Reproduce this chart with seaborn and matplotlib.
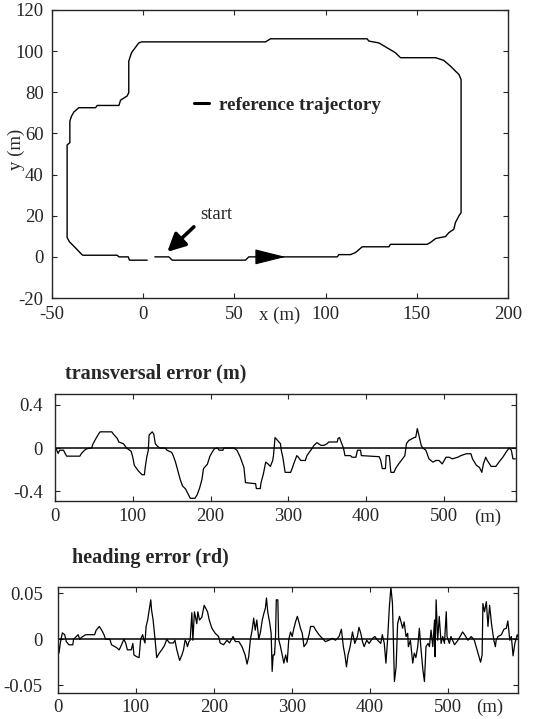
import numpy as np
import pandas as pd
import matplotlib
matplotlib.use("Agg")
import matplotlib.pyplot as plt
import seaborn as sns

# ---------------- data ----------------
traj_x = [6.4, 14.1, 15.9, 56.1, 57.9, 106.4, 107.3, 113.7, 116.4, 120.1, 134.7, 135.6,
          155.7, 157.5, 160.3, 165.8, 167.6, 170.3, 171.2, 173.1, 174.3, 174.3, 173.1,
          171.2, 168.5, 164.8, 162.1, 160.3, 141.1, 138.3, 133.8, 129.2, 123.7, 122.8,
          69.8, 67.1, -0.9, -2.4, -5.1, -6.4, -7.3, -7.9, -7.9, -8.8, -12.4, -13.3,
          -25.2, -26.1, -35.3, -38.0, -39.3, -40.2, -40.2, -41.7, -41.7, -40.4, -36.7,
          -33.8, -33.1, -14.3, -13.3, -8.2, -7.5, 2.2]
traj_y = [0.0, 0.0, -1.6, -1.6, 0.0, 0.0, 1.1, 1.1, 2.1, 4.9, 4.9, 6.1,
          6.1, 7.0, 8.9, 9.9, 11.8, 13.4, 16.7, 19.9, 21.5, 86.2, 88.7,
          90.3, 92.7, 95.5, 96.3, 96.8, 96.8, 99.2, 101.6, 104.0, 104.9, 106.0,
          106.0, 104.5, 104.5, 104.0, 100.8, 99.2, 96.8, 95.1, 79.8, 78.2, 76.2, 73.6,
          73.6, 72.5, 72.5, 70.4, 68.4, 66.0, 55.5, 54.4, 9.4, 7.3, 4.0,
          1.3, 0.8, 0.8, 0.0, 0.0, -1.6, -1.6]

trans_s = [0, 2, 4, 6, 11, 13, 15, 32, 34, 38, 41, 47, 49, 52, 56, 58, 73, 75, 80, 82, 88,
           92, 98, 100, 102, 107, 112, 115, 116, 118, 120, 121, 125, 127, 129, 132, 135,
           142, 144, 150, 152, 155, 158, 161, 164, 168, 174, 180, 183, 186, 189, 191, 196,
           199, 202, 205, 209, 211, 216, 217, 230, 234, 238, 243, 245, 258, 259, 264, 265,
           268, 271, 274, 277, 280, 281, 283, 286, 290, 291, 293, 296, 303, 305, 307, 311,
           313, 316, 322, 324, 329, 331, 333, 337, 342, 346, 350, 352, 363, 364, 366, 368,
           371, 373, 380, 382, 387, 389, 393, 394, 417, 419, 421, 425, 426, 430, 432, 436,
           438, 442, 447, 450, 452, 455, 462, 464, 466, 468, 471, 473, 477, 481, 486, 490,
           494, 498, 503, 507, 511, 518, 522, 529, 535, 537, 542, 546, 549, 551, 554, 556,
           561, 567, 571, 576, 580, 584, 587, 589, 592]
trans_e = [0, -0.016, -0.05, -0.02, -0.02, -0.05, -0.075, -0.075, -0.05, -0.02, -0.006, 0,
           0.04, 0.08, 0.13, 0.15, 0.15, 0.13, 0.09, 0.056, 0.04, 0, -0.03, -0.084, -0.16,
           -0.21, -0.247, -0.247, -0.18, -0.084, -0.02, 0.12, 0.15, 0.13, 0.04, 0.015, 0,
           0, -0.02, -0.04, -0.07, -0.13, -0.21, -0.29, -0.35, -0.38, -0.465, -0.465,
           -0.43, -0.37, -0.29, -0.19, -0.15, -0.08, -0.04, -0.006, 0, -0.02, -0.02, 0,
           0, -0.02, -0.08, -0.18, -0.32, -0.33, -0.375, -0.375, -0.32, -0.24, -0.13,
           -0.147, -0.17, -0.115, -0.07, 0.097, 0.072, 0.04, -0.02, -0.084, -0.225, -0.225,
           -0.19, -0.147, -0.07, -0.084, -0.115, -0.115, -0.07, -0.02, 0, 0.025, 0.05,
           0.025, 0.025, 0.04, 0.056, 0.056, 0.088, 0.097, 0.056, 0, -0.07, -0.07, -0.085,
           -0.085, -0.02, -0.02, -0.07, -0.08, -0.115, -0.19, -0.19, -0.07, -0.07, -0.225,
           -0.225, -0.19, -0.147, -0.1, -0.07, 0.04, 0.07, 0.097, 0.1, 0.18, 0.12, 0.025,
           0, -0.02, -0.1, -0.13, -0.115, -0.115, -0.147, -0.085, -0.085, -0.1, -0.085,
           -0.07, -0.053, -0.053, -0.1, -0.16, -0.18, -0.225, -0.147, -0.085, -0.115,
           -0.17, -0.17, -0.13, -0.085, -0.04, 0, -0.02, -0.1, -0.1]

head_s = [0, 1.3, 3, 5.6, 8.6, 10.7, 14, 19, 20, 23.6, 25.8, 28, 30, 35.6, 47, 49, 53, 56,
          59, 61, 66.5, 68.7, 75, 78.5, 81.5, 84.5, 87, 89, 94, 96, 97.4, 101, 104, 106,
          108.6, 110, 111.6, 113, 115, 117, 119, 120, 122, 124.5, 126.6, 130, 133, 136.5,
          139.5, 143, 148, 150, 152.4, 156, 159, 161, 163, 164.4, 166, 168, 169.5, 171.7,
          173, 175, 178, 179.4, 181.5, 184.5, 187.5, 191.8, 194, 197.4, 201.7, 206, 208,
          212.4, 216.7, 220, 224.5, 227.5, 232, 236, 240, 242.5, 244.6, 246.8, 249, 251,
          253, 255, 257.5, 259.7, 262, 264, 266, 267.4, 269, 271.7, 273.4, 274.7, 276,
          277.7, 279, 280, 282, 283, 285.4, 287.5, 289.7, 292, 294, 296, 298.3, 300.4,
          302.6, 304.7, 307, 309, 311, 313.3, 315.5, 319, 322, 324, 328, 330.5, 334.8,
          339, 343, 347.6, 352, 356, 360.5, 363.5, 366, 368, 370, 372, 374.7, 377.7,
          380.7, 384, 386, 388.4, 390.5, 392.7, 396, 399, 403.4, 406.4, 409.9, 414, 416,
          418.5, 420.6, 422.7, 425, 427, 429, 431.5, 433.7, 435.6, 438, 440, 442, 444,
          446.4, 448.5, 449.4, 452, 455, 457, 459, 461.4, 463.5, 465.7, 468, 470, 472,
          474.7, 476.4, 478.5, 480.7, 483, 483.7, 485, 487, 489, 491.4, 493.5, 495.7,
          498, 499, 502, 504, 508.6, 513, 517, 519, 521.5, 525.8, 530, 534, 538.6, 542,
          544, 545, 547, 549.4, 551.5, 553.6, 556, 559, 561, 562, 564.4, 568.7, 572, 575,
          577, 579.5, 581.5, 583.7, 586, 589, 592]
head_e = [0, -0.015, -0.004, 0.007, 0.005, -0.0025, -0.006, -0.006, 0, 0.003, 0.005, 0,
          0.002, 0.005, 0.005, 0.01, 0.014, 0.01, 0.005, 0, 0, -0.006, -0.009, -0.0115,
          -0.006, 0, -0.0045, -0.0115, -0.0115, -0.0045, -0.017, -0.019, -0.02, 0, 0.005,
          0, -0.004, 0.014, 0.021, 0.032, 0.043, 0.032, 0.021, 0, -0.02, -0.015, -0.0115,
          -0.007, 0, -0.004, -0.004, -0.001, -0.0115, -0.023, -0.017, -0.0115, -0.001,
          -0.0025, -0.008, -0.0025, -0.001, 0.029, -0.001, 0.03, 0.017, 0.03, 0.021,
          0.024, 0.037, 0.03, 0.021, 0.012, 0.0065, 0.003, -0.004, -0.006, -0.001, -0.004,
          0.003, -0.0025, -0.0025, -0.008, -0.017, -0.027, -0.019, 0, 0.01, 0.023, 0.01,
          0.021, 0, 0.008, 0.021, 0.028, 0.034, 0.045, 0.03, 0.017, 0.0065, -0.035,
          -0.017, -0.017, 0.003, 0.043, 0.043, 0, -0.008, -0.017, -0.026, -0.017, -0.025,
          0, 0.008, 0.003, 0.012, 0.019, 0.025, 0.019, 0.012, 0.0065, -0.008, -0.004,
          0.005, 0.014, 0.014, 0.01, 0.005, 0.001, -0.0025, -0.001, 0.001, -0.001, 0.003,
          0.011, -0.008, -0.017, -0.03, -0.017, -0.008, 0.008, -0.0045, 0.003, 0.013,
          0.0065, -0.0025, -0.008, -0.001, -0.0045, 0.001, 0.003, -0.001, -0.0045, 0.005,
          -0.0045, -0.026, -0.001, 0.035, 0.057, 0.039, -0.046, -0.03, 0.017, 0.025,
          0.019, 0.012, 0.019, 0.003, 0.0065, -0.008, -0.001, -0.026, -0.015, -0.02,
          -0.008, 0.012, -0.0115, -0.033, -0.046, -0.008, -0.0045, -0.008, 0.01, -0.008,
          0.021, -0.019, 0.043, -0.001, 0.025, -0.0045, 0.003, -0.0045, 0.03, 0.003,
          -0.0045, 0.003, -0.006, -0.001, 0.005, 0.008, 0.005, -0.001, 0.003, -0.001,
          -0.015, -0.025, -0.017, 0.039, 0.03, 0.041, 0.014, 0.037, 0.017, -0.001,
          -0.008, -0.001, 0.003, 0.005, 0.011, 0.012, 0.02, -0.001, 0.003, -0.018,
          -0.0045, 0.005, -0.001]

top_xticks = [-50, 0, 50, 100, 150, 200]
top_xlabels = ["-50", "0", "50", "100", "150", "200"]
top_yticks = [-20, 0, 20, 40, 60, 80, 100, 120]
top_ylabels = ["-20", "0", "20", "40", "60", "80", "100", "120"]
dist_ticks = [0, 100, 200, 300, 400, 500]
dist_labels = ["0", "100", "200", "300", "400", "500"]
trans_yticks = [-0.4, 0, 0.4]
trans_ylabels = ["-0.4", "0", "0.4"]
head_yticks = [-0.05, 0, 0.05]
head_ylabels = ["-0.05", "0", "0.05"]

# ---------------- style ----------------
sns.set_style("ticks")
plt.rcParams["font.family"] = ["Liberation Serif", "DejaVu Serif"]
plt.rcParams["xtick.direction"] = "in"
plt.rcParams["ytick.direction"] = "in"
plt.rcParams["axes.linewidth"] = 1.0
plt.rcParams["xtick.major.size"] = 3.5
plt.rcParams["ytick.major.size"] = 3.5
FS = 13.5
TFS = 14.5

fig = plt.figure(figsize=(5.42, 7.19), dpi=100)
ax1 = fig.add_axes([0.0959, 0.5855, 0.8413, 0.4006])
ax2 = fig.add_axes([0.1015, 0.3032, 0.8506, 0.1488])
ax3 = fig.add_axes([0.1070, 0.0362, 0.8487, 0.1474])

# ---- trajectory ----
df_t = pd.DataFrame({"x": traj_x, "y": traj_y})
sns.lineplot(data=df_t, x="x", y="y", sort=False, estimator=None, ax=ax1,
             color="black", lw=1.0, label="reference trajectory")
ax1.set_xlim(-50, 200)
ax1.set_ylim(-20, 120)
ax1.set_xticks(top_xticks)
ax1.set_xticklabels(top_xlabels)
ax1.set_yticks(top_yticks)
ax1.set_yticklabels(top_ylabels)
ax1.tick_params(top=True, right=True, labelsize=FS, pad=6)
ax1.set_xlabel("x (m)", fontsize=FS, labelpad=-12)
ax1.set_ylabel("y (m)", fontsize=FS)
ax1.yaxis.set_label_coords(-0.059, 0.515)
leg = ax1.legend(loc="center left", bbox_to_anchor=(0.311, 0.669), frameon=False,
                 handlelength=0.8, handletextpad=0.5, borderpad=0, borderaxespad=0,
                 prop={"weight": "bold", "size": 13.8, "family": "Liberation Serif"})
for h in leg.legend_handles:
    h.set_linewidth(2.2)

# direction arrow on the path and "start" marker
ax1.annotate("", xy=(78, 0), xytext=(64, 0),
             arrowprops=dict(arrowstyle="-|>,head_length=1.4,head_width=0.35",
                             color="black", lw=0.8, mutation_scale=14, shrinkA=0, shrinkB=0))
ax1.annotate("", xy=(13.2, 2.4), xytext=(27.8, 14.6),
             arrowprops=dict(arrowstyle="-|>,head_length=0.9,head_width=0.45",
                             color="black", lw=2.6, mutation_scale=12, shrinkA=0, shrinkB=0))
ax1.text(31.4, 20.7, "start", fontsize=FS, ha="left", va="center")

# ---- transversal error ----
df_tr = pd.DataFrame({"s": trans_s, "e": trans_e})
sns.lineplot(data=df_tr, x="s", y="e", sort=False, estimator=None, ax=ax2,
             color="black", lw=0.9)
ax2.axhline(0, color="black", lw=1.1)
ax2.set_xlim(0, 593)
ax2.set_ylim(-0.49, 0.5)
ax2.set_xticks(dist_ticks)
ax2.set_xticklabels(dist_labels)
ax2.set_yticks(trans_yticks)
ax2.set_yticklabels(trans_ylabels)
ax2.tick_params(top=True, right=True, labelsize=FS)
ax2.tick_params(axis="x", pad=5)
ax2.tick_params(axis="y", pad=9)
ax2.set_xlabel("")
ax2.set_ylabel("")
ax2.annotate("(m)", xy=(557, 0), xycoords=("data", "axes fraction"),
             xytext=(0, -12), textcoords="offset points", fontsize=FS,
             ha="center", va="center")
fig.text(65 / 542, 1 - 373 / 719, "transversal error (m)", fontsize=TFS,
         fontweight="bold", ha="left", va="center")

# ---- heading error ----
df_h = pd.DataFrame({"s": head_s, "e": head_e})
sns.lineplot(data=df_h, x="s", y="e", sort=False, estimator=None, ax=ax3,
             color="black", lw=0.9)
ax3.axhline(0, color="black", lw=1.1)
ax3.set_xlim(0, 590)
ax3.set_ylim(-0.0585, 0.057)
ax3.set_xticks(dist_ticks)
ax3.set_xticklabels(dist_labels)
ax3.set_yticks(head_yticks)
ax3.set_yticklabels(head_ylabels)
ax3.tick_params(top=True, right=True, labelsize=FS)
ax3.tick_params(axis="x", pad=4)
ax3.tick_params(axis="y", pad=11)
ax3.set_xlabel("")
ax3.set_ylabel("")
ax3.annotate("(m)", xy=(554, 0), xycoords=("data", "axes fraction"),
             xytext=(0, -10.5), textcoords="offset points", fontsize=FS,
             ha="center", va="center")
fig.text(72 / 542, 1 - 558 / 719, "heading error (rd)", fontsize=TFS,
         fontweight="bold", ha="left", va="center")

fig.savefig("out.png", dpi=100)
